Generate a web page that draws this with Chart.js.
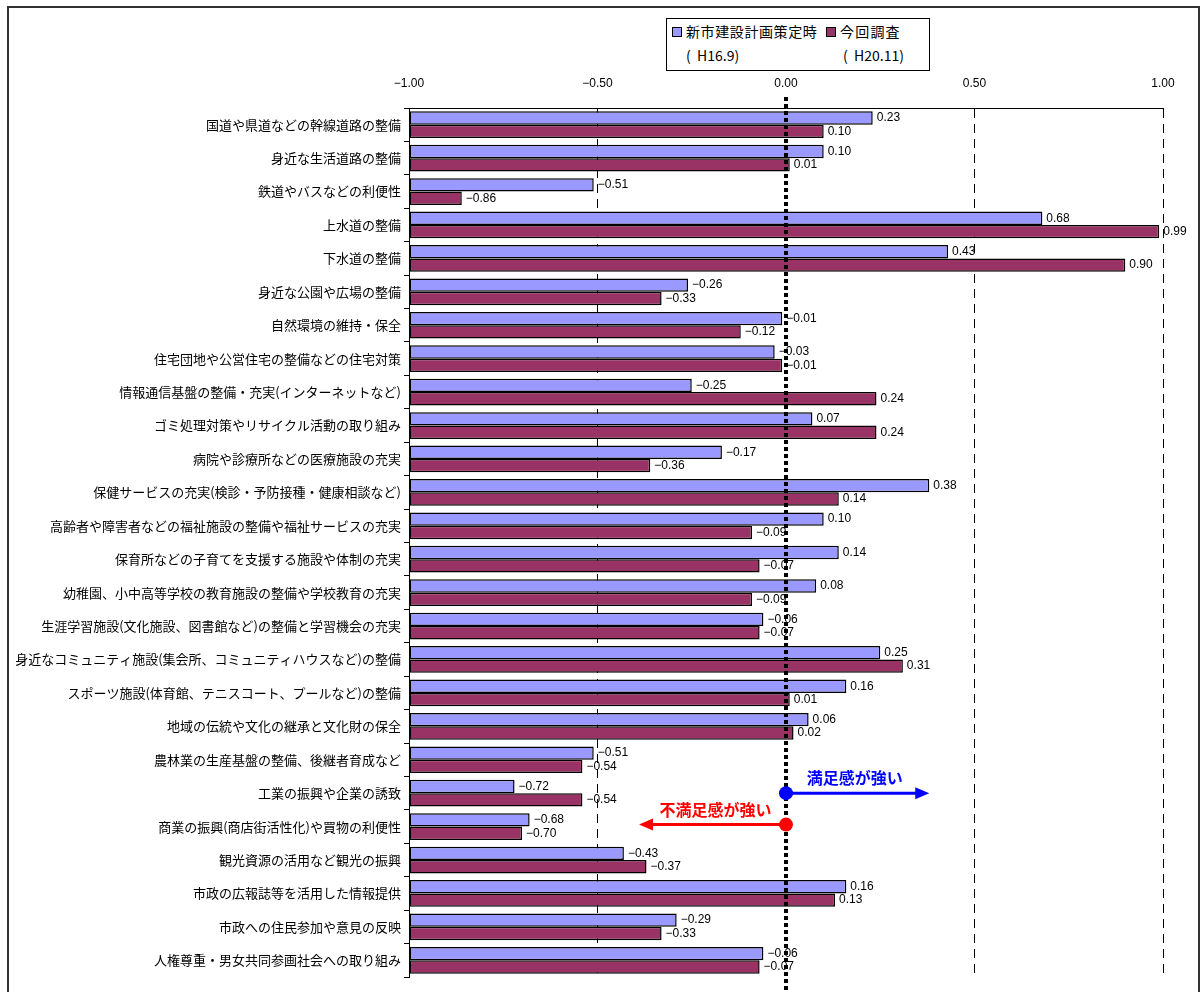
<!DOCTYPE html>
<html>
<head>
<meta charset="utf-8">
<script src="https://cdn.jsdelivr.net/npm/chart.js@4"></script>
<style>
  html, body { margin: 0; padding: 0; background: #fff; }
  #wrap { position: relative; width: 1200px; height: 992px; overflow: hidden; }
  #frame { position: absolute; left: 7px; top: 6px; width: 1189px; height: 1100px; border: 2px solid #333; }
  canvas { position: absolute; left: 0; top: 0; }
  #legend { position: absolute; left: 666px; top: 18px; width: 262px; height: 51px; border: 1px solid #000; background: #fff;
            font-family: "Noto Sans CJK JP", sans-serif; font-size: 14px; color: #000; }
  #legend span { position: absolute; white-space: pre; line-height: 16px; }
  #legend i { position: absolute; width: 8px; height: 8px; border: 1px solid #000; }
</style>
</head>
<body>
<div id="wrap">
  <div id="frame"></div>
  <canvas id="chartCanvas" width="1200" height="992"></canvas>
  <div id="legend"></div>
</div>
<script>
const categories = [
  "国道や県道などの幹線道路の整備",
  "身近な生活道路の整備",
  "鉄道やバスなどの利便性",
  "上水道の整備",
  "下水道の整備",
  "身近な公園や広場の整備",
  "自然環境の維持・保全",
  "住宅団地や公営住宅の整備などの住宅対策",
  "情報通信基盤の整備・充実(インターネットなど)",
  "ゴミ処理対策やリサイクル活動の取り組み",
  "病院や診療所などの医療施設の充実",
  "保健サービスの充実(検診・予防接種・健康相談など)",
  "高齢者や障害者などの福祉施設の整備や福祉サービスの充実",
  "保育所などの子育てを支援する施設や体制の充実",
  "幼稚園、小中高等学校の教育施設の整備や学校教育の充実",
  "生涯学習施設(文化施設、図書館など)の整備と学習機会の充実",
  "身近なコミュニティ施設(集会所、コミュニティハウスなど)の整備",
  "スポーツ施設(体育館、テニスコート、プールなど)の整備",
  "地域の伝統や文化の継承と文化財の保全",
  "農林業の生産基盤の整備、後継者育成など",
  "工業の振興や企業の誘致",
  "商業の振興(商店街活性化)や買物の利便性",
  "観光資源の活用など観光の振興",
  "市政の広報誌等を活用した情報提供",
  "市政への住民参加や意見の反映",
  "人権尊重・男女共同参画社会への取り組み"
];

const seriesNames = ["新市建設計画策定時", "今回調査"];
const seriesPeriods = ["(  H16.9)", "(  H20.11)"];

// 新市建設計画策定時 (H16.9)
const h16 = [0.23, 0.10, -0.51, 0.68, 0.43, -0.26, -0.01, -0.03, -0.25, 0.07,
             -0.17, 0.38, 0.10, 0.14, 0.08, -0.06, 0.25, 0.16, 0.06, -0.51,
             -0.72, -0.68, -0.43, 0.16, -0.29, -0.06];
// 今回調査 (H20.11)
const h20 = [0.10, 0.01, -0.86, 0.99, 0.90, -0.33, -0.12, -0.01, 0.24, 0.24,
             -0.36, 0.14, -0.09, -0.07, -0.09, -0.07, 0.31, 0.01, 0.02, -0.54,
             -0.54, -0.70, -0.37, 0.13, -0.33, -0.07];

const xTicks = [-1, -0.5, 0, 0.5, 1];

const colors = ["#9999FF", "#993366"];

// arrows: which category row they sit on and how far they reach
const goodArrow = { text: "満足感が強い", row: 20, to: 0.38, color: "#0000FF" };
const badArrow = { text: "不満足感が強い", row: 21, to: -0.39, color: "#FF0000" };

function fmt(v) {
  const s = Math.abs(v).toFixed(2);
  return v < 0 ? "\u2212" + s : s;
}

// legend as html, two lines per item
const legendEl = document.getElementById("legend");
legendEl.innerHTML = `
  <i style="left:5px;top:8px;background:${colors[0]}"></i>
  <span style="left:19px;top:4px;letter-spacing:0.6px">${seriesNames[0]}</span>
  <span style="left:19px;top:28px">${seriesPeriods[0]}</span>
  <i style="left:159px;top:8px;background:${colors[1]}"></i>
  <span style="left:173px;top:4px;letter-spacing:1.2px">${seriesNames[1]}</span>
  <span style="left:176px;top:28px">${seriesPeriods[1]}</span>
`;

const overlay = {
  id: "overlay",
  afterDatasetsDraw(chart) {
    const { ctx, chartArea, scales } = chart;
    const xs = scales.x, ys = scales.y;

    // value labels
    ctx.save();
    ctx.font = "12px 'Liberation Sans', Arial, sans-serif";
    ctx.fillStyle = "#000";
    ctx.textAlign = "left";
    ctx.textBaseline = "middle";
    chart.data.datasets.forEach((ds, di) => {
      chart.getDatasetMeta(di).data.forEach((bar, i) => {
        ctx.fillText(fmt(ds.data[i]), bar.x + 4, bar.y);
      });
    });
    ctx.restore();

    // zero line
    const x0 = xs.getPixelForValue(0);
    ctx.save();
    ctx.strokeStyle = "#000";
    ctx.lineWidth = 4;
    ctx.setLineDash([4, 3]);
    ctx.beginPath();
    ctx.moveTo(x0, chartArea.top - 11);
    ctx.lineTo(x0, chart.height);
    ctx.stroke();
    ctx.restore();

    // arrows
    [goodArrow, badArrow].forEach(a => {
      const y = ys.getPixelForValue(a.row) - (a.to < 0 ? 2 : 0);
      const xt = xs.getPixelForValue(a.to);
      const dir = Math.sign(a.to);
      ctx.save();
      ctx.strokeStyle = a.color;
      ctx.fillStyle = a.color;
      ctx.lineWidth = 3;
      ctx.beginPath();
      ctx.moveTo(x0, y);
      ctx.lineTo(xt - dir * 10, y);
      ctx.stroke();
      ctx.beginPath();
      ctx.moveTo(xt, y);
      ctx.lineTo(xt - dir * 14, y - 6);
      ctx.lineTo(xt - dir * 14, y + 6);
      ctx.closePath();
      ctx.fill();
      ctx.beginPath();
      ctx.arc(x0, y, 7, 0, Math.PI * 2);
      ctx.fill();
      ctx.font = "bold 16px 'Noto Sans CJK JP', sans-serif";
      ctx.textAlign = "center";
      ctx.textBaseline = "middle";
      ctx.fillText(a.text, (x0 + xt) / 2 - dir * 3, y - 15);
      ctx.restore();
    });
  }
};

const ctx = document.getElementById("chartCanvas").getContext("2d");

new Chart(ctx, {
  type: "bar",
  data: {
    labels: categories,
    datasets: [
      { label: seriesNames[0], data: h16, base: -1, backgroundColor: colors[0] },
      { label: seriesNames[1], data: h20, base: -1, backgroundColor: colors[1] }
    ]
  },
  options: {
    indexAxis: "y",
    responsive: false,
    animation: false,
    layout: { padding: { left: 0, right: 37, top: 0, bottom: 15 } },
    datasets: {
      bar: {
        categoryPercentage: 0.8,
        barPercentage: 1.0,
        borderColor: "#000",
        borderWidth: 1.5,
        borderSkipped: false
      }
    },
    plugins: {
      legend: { display: false },
      tooltip: { enabled: false }
    },
    scales: {
      x: {
        position: "top",
        min: -1,
        max: 1,
        afterBuildTicks: s => { s.ticks = xTicks.map(v => ({ value: v })); },
        afterFit: s => { s.height = 108; },
        ticks: {
          callback: v => fmt(v),
          color: "#000",
          font: { family: "'Liberation Sans', Arial, sans-serif", size: 12 },
          padding: 17
        },
        grid: {
          drawTicks: false,
          lineWidth: 1,
          color: c => (c.tick && (c.tick.value === 0 || c.tick.value === -1)) ? "rgba(0,0,0,0)" : "#000"
        },
        border: { display: true, color: "#000", width: 1, dash: [9, 6] }
      },
      y: {
        afterFit: s => { s.width = 409; },
        grid: { drawOnChartArea: false, offset: true, tickLength: 5, color: "#000" },
        border: { display: true, color: "#000", width: 1 },
        ticks: {
          autoSkip: false,
          color: "#000",
          padding: 3,
          font: { family: "'Noto Sans CJK JP', sans-serif", size: 13 }
        }
      }
    }
  },
  plugins: [overlay]
});
</script>
</body>
</html>
